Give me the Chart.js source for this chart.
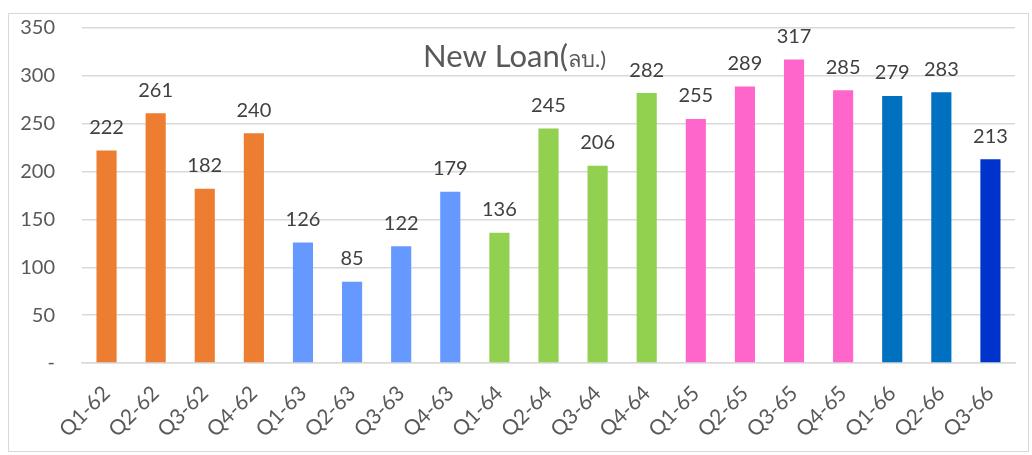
<!DOCTYPE html>
<html>
<head>
<meta charset="utf-8">
<script src="https://cdn.jsdelivr.net/npm/chart.js@4"></script>
<style>
  body { margin: 0; background: #fff; }
  #wrap { width: 1032px; height: 455px; position: relative; }
</style>
</head>
<body>
<div id="wrap"><canvas id="loanChart" width="1032" height="455"></canvas></div>
<script>
// ข้อมูลสินเชื่อใหม่ รายไตรมาส
const quarters = ['Q1-62','Q2-62','Q3-62','Q4-62','Q1-63','Q2-63','Q3-63','Q4-63','Q1-64','Q2-64','Q3-64','Q4-64','Q1-65','Q2-65','Q3-65','Q4-65','Q1-66','Q2-66','Q3-66'];
const newLoan = [222, 261, 182, 240, 126, 85, 122, 179, 136, 245, 206, 282, 255, 289, 317, 285, 279, 283, 213];
const barColors = ['#ED7D31','#ED7D31','#ED7D31','#ED7D31','#6699FF','#6699FF','#6699FF','#6699FF','#92D050','#92D050','#92D050','#92D050','#FF66CC','#FF66CC','#FF66CC','#FF66CC','#0070C0','#0070C0','#0033CC'];
const yTicks = [0, 50, 100, 150, 200, 250, 300, 350];

const fontFamily = 'Lato, "Open Sans", sans-serif';

// กรอบ + ชื่อกราฟ + ตัวเลขบนแท่ง
const decor = {
  id: 'decor',
  beforeDraw(chart) {
    const c = chart.ctx;
    c.save();
    c.fillStyle = '#fff';
    c.fillRect(0, 0, chart.width, chart.height);
    c.strokeStyle = '#D9D9D9';
    c.lineWidth = 1;
    c.strokeRect(8.5, 13.5, 1020, 438);
    c.restore();
  },
  afterDatasetsDraw(chart) {
    const c = chart.ctx;
    c.save();
    c.fillStyle = '#404040';
    c.font = '20px ' + fontFamily;
    c.textAlign = 'center';
    c.textBaseline = 'bottom';
    chart.getDatasetMeta(0).data.forEach((bar, i) => {
      c.fillText(newLoan[i], bar.x, bar.y - 13);
    });

    // title
    c.fillStyle = '#595959';
    c.textAlign = 'left';
    c.textBaseline = 'alphabetic';
    c.font = '31px ' + fontFamily;
    const t1 = 'New Loan(';
    c.fillText(t1, 423, 67);
    const w1 = c.measureText(t1).width;
    c.font = '22px ' + fontFamily;
    c.fillText('ลบ.)', 423 + w1, 67);
    c.restore();
  }
};

new Chart(document.getElementById('loanChart'), {
  type: 'bar',
  data: {
    labels: quarters,
    datasets: [{
      data: newLoan,
      backgroundColor: barColors,
      categoryPercentage: 1,
      barPercentage: 0.41
    }]
  },
  options: {
    responsive: false,
    animation: false,
    layout: { padding: { top: 28, right: 17, left: 0, bottom: 0 } },
    plugins: { legend: { display: false }, tooltip: { enabled: false } },
    scales: {
      x: {
        grid: { display: false, drawTicks: false },
        border: { color: '#D9D9D9', width: 1.5 },
        ticks: {
          color: '#595959',
          font: { family: fontFamily, size: 21 },
          minRotation: 45,
          maxRotation: 45,
          padding: 18
        },
        afterFit(axis) { axis.height = 92; axis.paddingLeft = 0; axis.paddingRight = 0; }
      },
      y: {
        min: 0,
        max: 350,
        afterBuildTicks(axis) { axis.ticks = yTicks.map(v => ({ value: v })); },
        grid: { color: '#D9D9D9', lineWidth: 1.5, drawTicks: false },
        border: { display: false },
        ticks: {
          color: '#595959',
          font: { family: fontFamily, size: 20 },
          padding: 27,
          callback: v => v === 0 ? '-' : v
        },
        afterFit(axis) { axis.width = 82; axis.paddingTop = 0; axis.paddingBottom = 0; }
      }
    }
  },
  plugins: [decor]
});
</script>
</body>
</html>
